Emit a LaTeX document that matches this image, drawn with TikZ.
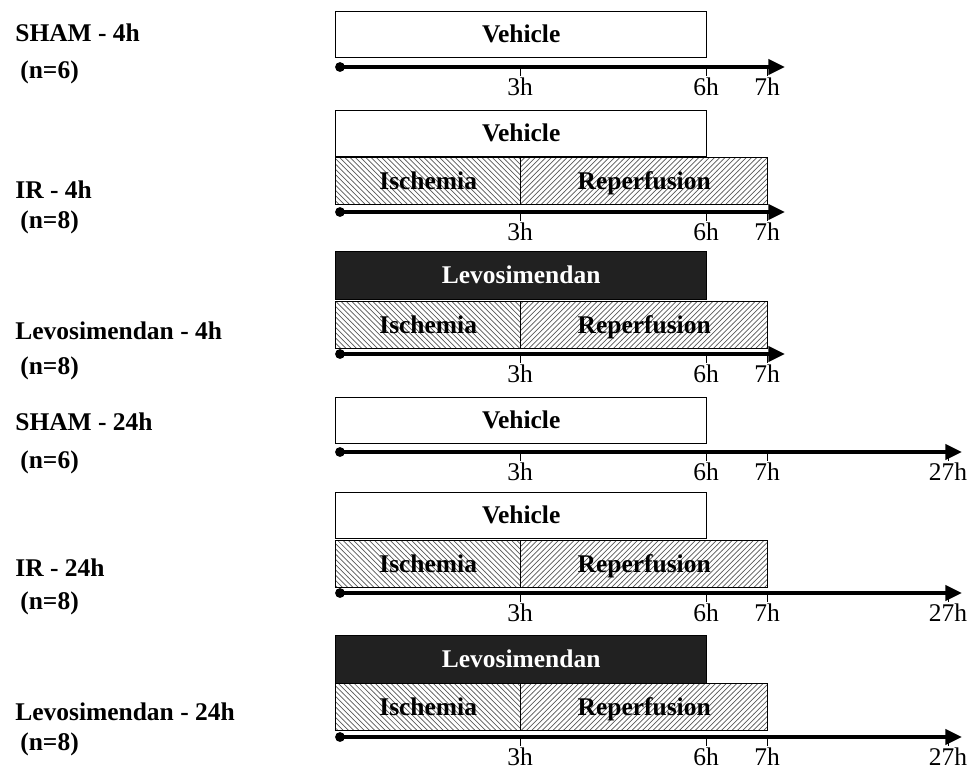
\documentclass[tikz,border=0pt]{standalone}
\usepackage{fontspec}
\setmainfont{Liberation Serif}
\usetikzlibrary{arrows.meta,patterns}

\begin{document}
\begin{tikzpicture}[x=0.02cm, y=-0.02cm,
  every node/.style={font=\fontsize{14.5}{17}\selectfont},
  grouplbl/.style={anchor=west, inner sep=0pt, font=\fontsize{14.5}{17}\selectfont\bfseries},
  bar/.style={draw, line width=0.8pt, anchor=north west, inner sep=0pt, text height=11pt, text depth=2pt,
    font=\fontsize{14.5}{17}\selectfont\bfseries},
  vehbar/.style={bar, fill=white, minimum width=7.42cm, minimum height=0.92cm},
  levobar/.style={bar, fill=black!87, text=white, minimum width=7.42cm, minimum height=0.95cm},
  ischbar/.style={bar, pattern=north west lines, pattern color=black!65, minimum width=3.70cm, minimum height=0.94cm},
  repbar/.style={bar, pattern=north east lines, pattern color=black!65, minimum width=4.94cm, minimum height=0.94cm},
  axis/.style={line width=2.5pt, -{Triangle[length=9.5pt,width=8.5pt]}},
  tickmark/.style={line width=0.5pt}]
	\useasboundingbox (0,0) rectangle (974,772);
	% group names
	\foreach \g/\y/\name/\n/\yn in {1/33/SHAM - 4h/6/72, 2/190/IR - 4h/8/222, 3/331/Levosimendan - 4h/8/368,
		4/422/SHAM - 24h/6/462, 5/568/IR - 24h/8/603, 6/712/Levosimendan - 24h/8/744} {
		\node[grouplbl] (g\g) at (15,\y) {\name};
		\node[grouplbl] (n\g) at (20,\yn) {(n=\n)};
	}
	% time axes
	\foreach \i/\ya/\xe in {1/67/785, 2/212/785, 3/354/785, 4/452/962, 5/593/962, 6/737/962} {
		\coordinate (t\i s) at (340,\ya);
		\coordinate (t\i e) at (\xe,\ya);
		\draw[axis] (t\i s) -- (t\i e);
		\fill (t\i s) circle (2.8pt);
		\foreach \h/\x in {3/520, 6/706, 7/767} {
			\coordinate (t\i h\h) at (\x,\ya);
			\draw[tickmark] (t\i h\h) -- ++(0,9) node[below, inner sep=1pt] (l\i h\h) {\h h};
		}
	}
	\foreach \i/\ya in {4/452, 5/593, 6/737} {
		\coordinate (t\i h27) at (948,\ya);
		\draw[tickmark] (t\i h27) -- ++(0,9) node[below, inner sep=1pt] (l\i h27) {27h};
	}
	% treatment bars
	\node[vehbar] (veh1) at (335,11) {Vehicle};
	\node[vehbar] (veh2) at (335,110) {Vehicle};
	\node[ischbar] (isch2) at (335,157) {Ischemia};
	\node[repbar] (rep2) at (520,157) {Reperfusion};
	\node[levobar] (levo3) at (335,251) {Levosimendan};
	\node[ischbar] (isch3) at (335,301) {Ischemia};
	\node[repbar] (rep3) at (520,301) {Reperfusion};
	\node[vehbar] (veh4) at (335,397) {Vehicle};
	\node[vehbar] (veh5) at (335,492) {Vehicle};
	\node[ischbar] (isch5) at (335,540) {Ischemia};
	\node[repbar] (rep5) at (520,540) {Reperfusion};
	\node[levobar] (levo6) at (335,635) {Levosimendan};
	\node[ischbar] (isch6) at (335,683) {Ischemia};
	\node[repbar] (rep6) at (520,683) {Reperfusion};
\end{tikzpicture}
\end{document}
